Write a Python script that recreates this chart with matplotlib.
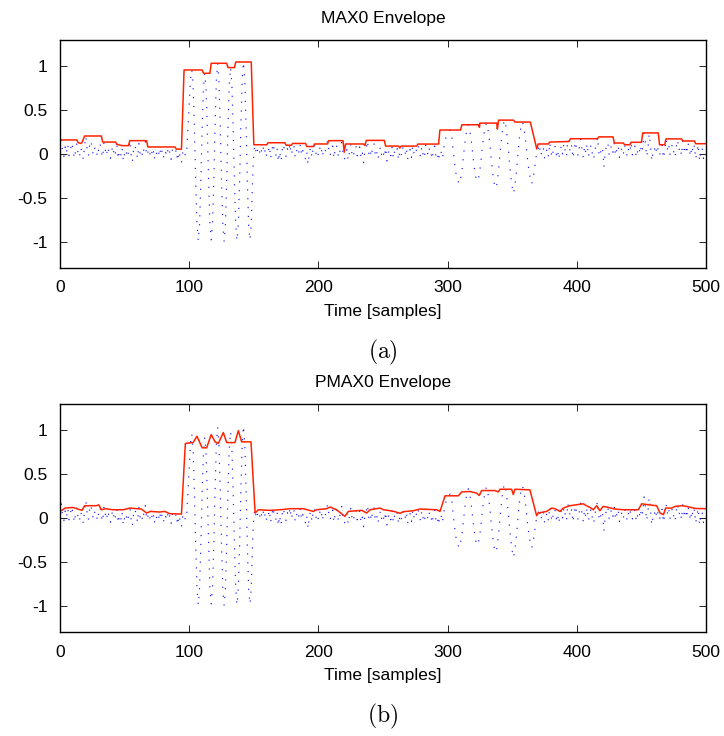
import matplotlib
matplotlib.use("Agg")
import matplotlib.pyplot as plt
import numpy as np

plt.rcParams['font.family'] = ['Liberation Sans', 'DejaVu Sans']
plt.rcParams['axes.unicode_minus'] = False
plt.rcParams['mathtext.fontset'] = 'cm'

# input signal, one value per sample
signal = [
    0.05, 0.16, 0.02, -0.03, 0.08, 0.01, 0.11, -0.02, 0.04, 0.13,
    0.06, -0.05, 0.03, 0.12, 0.0, -0.04, 0.07, 0.02, -0.06, 0.09,
    0.20, 0.05, -0.02, 0.11, 0.15, 0.03, -0.01, 0.08, 0.04, -0.03,
    0.06, 0.12, 0.02, -0.04, 0.13, 0.05, -0.02, 0.08, 0.01, -0.05,
    0.04, 0.09, -0.03, 0.02, 0.10, -0.06, 0.03, -0.02, 0.07, -0.08,
    0.01, 0.05, -0.04, 0.02, 0.15, -0.01, -0.09, 0.06, 0.10, 0.03,
    -0.05, 0.12, 0.0, 0.04, -0.03, 0.07, 0.14, -0.02, 0.02, 0.06,
    -0.04, 0.01, 0.07, -0.06, 0.03, 0.0, 0.05, -0.03, 0.08, 0.02,
    -0.05, 0.04, 0.01, 0.07, -0.02, 0.03, -0.06, 0.05, 0.02, 0.0,
    0.05, -0.08, 0.03, -0.03, -0.10, 0.02, 0.05, -0.02, 0.02, 0.30,
    0.60, 0.85, 0.958, 0.78, 0.30, -0.30, -0.80, -0.99, -0.80, -0.31,
    0.30, 0.75, 0.92, 0.75, 0.29, -0.30, -0.79, -0.98, -0.80, -0.32,
    0.32, 0.84, 1.034, 0.83, 0.32, -0.31, -0.80, -1.0, -0.81, -0.30,
    0.31, 0.80, 0.985, 0.80, 0.30, -0.31, -0.81, -0.99, -0.80, -0.31,
    0.33, 0.85, 1.049, 0.85, 0.32, -0.32, -0.82, -0.98, -0.80, -0.30,
    0.03, 0.10, -0.01, 0.05, 0.08, -0.02, 0.04, 0.10, 0.0, 0.06,
    -0.03, 0.02, 0.09, -0.05, 0.04, 0.12, 0.01, -0.02, 0.07, -0.09,
    0.03, -0.08, 0.05, 0.11, 0.0, -0.03, 0.06, 0.02, 0.12, -0.01,
    0.05, 0.10, -0.04, 0.03, 0.08, 0.01, 0.11, -0.02, 0.04, 0.0,
    -0.06, 0.02, -0.12, 0.03, 0.07, -0.04, 0.08, 0.11, 0.0, 0.05,
    -0.02, 0.06, 0.10, -0.03, 0.04, 0.01, 0.08, 0.15, 0.05, -0.02,
    0.03, 0.09, -0.05, 0.06, 0.10, 0.0, -0.04, 0.07, 0.13, 0.02,
    -0.06, -0.03, 0.05, -0.07, 0.02, 0.11, 0.0, -0.04, 0.06, 0.09,
    -0.02, 0.03, 0.08, -0.05, 0.01, -0.10, 0.04, 0.07, 0.15, 0.0,
    0.05, -0.03, 0.09, 0.12, -0.01, 0.04, -0.06, 0.02, 0.08, -0.02,
    0.03, -0.04, 0.07, -0.08, 0.01, 0.05, -0.02, 0.08, -0.05, 0.03,
    0.0, 0.06, -0.07, 0.02, -0.03, 0.08, 0.04, -0.01, 0.07, -0.06,
    0.02, 0.05, -0.04, 0.09, 0.01, -0.02, 0.06, 0.11, 0.03, -0.03,
    0.08, 0.0, -0.05, 0.10, 0.04, -0.02, 0.07, 0.02, -0.06, 0.05,
    0.09, -0.03, 0.01, -0.08, 0.04, 0.02, -0.05, 0.06, 0.15, 0.20,
    0.24, 0.26, 0.273, 0.22, 0.08, -0.05, -0.18, -0.27, -0.31, -0.34,
    -0.28, -0.20, -0.06, 0.08, 0.20, 0.29, 0.333, 0.28, 0.18, 0.06,
    -0.08, -0.20, -0.28, -0.31, -0.27, -0.18, -0.05, 0.10, 0.22, 0.30,
    0.352, 0.30, 0.20, 0.06, -0.10, -0.23, -0.33, -0.39, -0.35, -0.24,
    -0.09, 0.08, 0.22, 0.33, 0.386, 0.33, 0.20, 0.05, -0.12, -0.27,
    -0.38, -0.45, -0.37, -0.24, -0.08, 0.10, 0.24, 0.32, 0.364, 0.30,
    0.20, 0.06, -0.08, -0.20, -0.28, -0.34, -0.30, -0.20, -0.08, 0.02,
    0.05, 0.11, -0.02, 0.03, 0.08, -0.05, 0.01, 0.06, -0.03, 0.13,
    0.02, -0.04, 0.07, 0.10, -0.01, 0.05, -0.06, 0.03, 0.09, 0.0,
    0.12, 0.04, -0.03, 0.17, 0.08, 0.02, 0.10, -0.05, 0.06, 0.14,
    0.03, -0.02, 0.08, 0.17, 0.05, -0.04, 0.09, 0.01, 0.12, -0.03,
    0.06, 0.10, 0.0, -0.06, 0.04, 0.11, 0.19, 0.02, -0.03, 0.08,
    0.05, -0.15, 0.03, 0.09, 0.13, -0.01, 0.06, 0.10, 0.02, 0.12,
    -0.02, 0.05, 0.10, -0.04, 0.03, 0.07, 0.0, 0.10, 0.04, -0.03,
    0.06, 0.02, 0.13, -0.01, 0.05, 0.09, -0.04, 0.03, 0.08, 0.0,
    0.11, 0.05, 0.24, 0.14, -0.03, 0.06, 0.23, 0.10, -0.08, 0.02,
    0.07, 0.0, 0.10, 0.04, -0.02, 0.06, 0.10, -0.05, 0.03, 0.17,
    0.05, 0.12, -0.01, 0.07, 0.11, 0.02, -0.04, 0.09, 0.16, 0.04,
    0.08, -0.02, 0.15, 0.05, 0.10, 0.0, 0.13, 0.06, -0.03, 0.09,
    0.02, 0.10, -0.06, 0.04, 0.11, -0.08, 0.03, 0.07, -0.05, 0.02,
]

# MAX0 envelope vertices (sample, value)
max0_t = [0, 13, 14, 16, 17, 19, 32, 33, 43, 44, 48, 53, 54, 67, 68, 89, 90, 94,
          96, 110, 111, 116, 117, 129, 130, 135, 136, 148, 150, 160, 161, 174,
          175, 179, 180, 190, 191, 196, 197, 207, 208, 219, 220, 221, 235, 236,
          237, 251, 252, 262, 263, 264, 276, 277, 293, 294, 310, 311, 324,
          324.6, 325, 338, 338.5, 339.5, 351, 352, 364, 369, 370, 378, 379,
          394, 395, 416, 417, 428, 429, 436, 437, 441, 442, 450, 451, 463,
          464, 468, 469, 481, 482, 491, 492, 500]
max0_v = [0.16, 0.16, 0.13, 0.12, 0.13, 0.205, 0.205, 0.136, 0.136, 0.11, 0.095,
          0.095, 0.152, 0.152, 0.08, 0.08, 0.055, 0.055, 0.958, 0.958, 0.92,
          0.92, 1.034, 1.034, 0.985, 0.985, 1.049, 1.049, 0.105, 0.105, 0.128,
          0.128, 0.10, 0.10, 0.12, 0.12, 0.085, 0.085, 0.114, 0.114, 0.152,
          0.152, 0.02, 0.114, 0.114, 0.095, 0.155, 0.155, 0.09, 0.09, 0.068,
          0.09, 0.09, 0.113, 0.113, 0.273, 0.273, 0.333, 0.333, 0.303, 0.352,
          0.352, 0.284, 0.386, 0.386, 0.364, 0.364, 0.057, 0.114, 0.114,
          0.136, 0.142, 0.174, 0.174, 0.195, 0.195, 0.125, 0.125, 0.105,
          0.105, 0.133, 0.133, 0.24, 0.24, 0.105, 0.105, 0.172, 0.172, 0.148,
          0.148, 0.117, 0.117]

# PMAX0 envelope vertices (sample, value)
pmax0_t = [0, 4, 10, 17, 19, 28, 30, 32, 35, 41, 49, 54, 63, 67, 70, 77, 81, 85,
           94, 97, 103, 106, 110, 113.5, 117, 120, 122.5, 126.4, 129, 135.4,
           138, 140.6, 147.8, 151, 153.5, 162.5, 170.3, 178, 188.3, 196, 198.6,
           206.4, 209, 214, 220.5, 223.2, 233.5, 237.4, 240, 247.7, 250.3,
           255.4, 259.3, 263.2, 265.7, 273.5, 278.6, 291.5, 294.1, 298, 308.3,
           310.9, 317.4, 322.5, 324.5, 326.3, 336.6, 339.2, 340.5, 349.5,
           350.8, 352.1, 363.7, 368.9, 370.2, 376.6, 380.5, 383.1, 386.9,
           389.5, 394.6, 399.8, 405, 407.5, 410.1, 412.7, 415.3, 417.8, 420.4,
           423, 429.5, 436, 443.7, 447.6, 450.2, 455.3, 461.8, 464.4, 467,
           468.8, 473.4, 476, 481.2, 485, 491.5, 500]
pmax0_v = [0.075, 0.113, 0.12, 0.087, 0.14, 0.14, 0.15, 0.094, 0.106, 0.094,
           0.094, 0.113, 0.102, 0.057, 0.075, 0.068, 0.075, 0.049, 0.045, 0.85,
           0.86, 0.932, 0.8, 0.8, 0.951, 0.868, 0.85, 0.974, 0.86, 0.86, 0.996,
           0.868, 0.868, 0.057, 0.094, 0.087, 0.094, 0.106, 0.106, 0.075,
           0.094, 0.106, 0.125, 0.094, 0.019, 0.075, 0.087, 0.057, 0.094,
           0.113, 0.094, 0.083, 0.072, 0.053, 0.072, 0.083, 0.102, 0.094,
           0.075, 0.253, 0.253, 0.298, 0.302, 0.283, 0.257, 0.313, 0.313,
           0.298, 0.328, 0.328, 0.268, 0.328, 0.321, 0.026, 0.057, 0.075,
           0.113, 0.106, 0.075, 0.113, 0.14, 0.151, 0.162, 0.14, 0.121, 0.094,
           0.14, 0.083, 0.132, 0.125, 0.102, 0.094, 0.094, 0.094, 0.162,
           0.151, 0.14, 0.057, 0.038, 0.113, 0.113, 0.132, 0.14, 0.132, 0.109,
           0.106]

titles = ["MAX0 Envelope", "PMAX0 Envelope"]
captions = ["(a)", "(b)"]
env_t = [max0_t, pmax0_t]
env_v = [max0_v, pmax0_v]

fig = plt.figure(figsize=(7.24, 7.36), dpi=100)
rects = [[0.0829, 0.6359, 0.8923, 0.3098], [0.0829, 0.1413, 0.8923, 0.3098]]
cap_y = [1 - 352 / 736, 1 - 716 / 736]

x = np.arange(len(signal))
for i in range(2):
    ax = fig.add_axes(rects[i])
    # sparse dotted line, like MATLAB's 'b:'
    ax.plot(x, signal, color='#1a1aff', linestyle=(0, (1, 6.5)), lw=0.85)
    ax.plot(env_t[i], env_v[i], color='#ff2200', lw=1.1)
    ax.set_xlim(0, 500)
    ax.set_ylim(-1.3, 1.3)
    ax.set_xticks([0, 100, 200, 300, 400, 500])
    ax.set_yticks([-1, -0.5, 0, 0.5, 1])
    ax.set_yticklabels(["-1", "-0.5", "0", "0.5", "1"])
    ax.tick_params(direction='in', top=True, right=True, labelsize=12.5,
                   length=5, width=0.6, pad=9)
    for sp in ax.spines.values():
        sp.set_linewidth(1.0)
    ax.set_title(titles[i], fontsize=12.5, pad=12)
    ax.set_xlabel("Time [samples]", fontsize=12.5, labelpad=6)
    fig.text(rects[i][0] + rects[i][2] / 2, cap_y[i],
             r"$\mathrm{" + captions[i] + "}$", fontsize=17,
             ha='center', va='center')

fig.savefig("out.png", dpi=100)
